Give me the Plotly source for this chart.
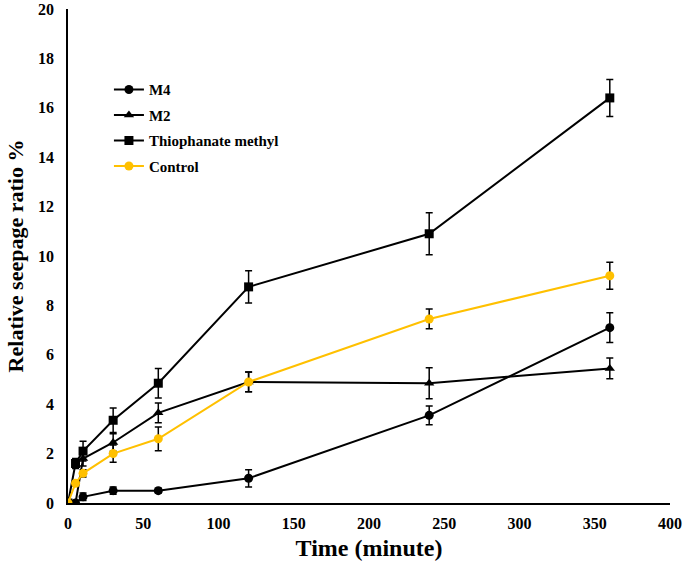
import plotly.graph_objects as go

time = [0, 5, 10, 30, 60, 120, 240, 360]

m4 = [0, 0.0, 0.25, 0.5, 0.5, 1.0, 3.55, 7.1]
m4_err = [0, 0.05, 0.15, 0.15, 0.1, 0.35, 0.38, 0.6]

m2 = [0, 0.0, 1.8, 2.45, 3.65, 4.9, 4.85, 5.45]
m2_err = [0, 0.05, 0.3, 0.35, 0.4, 0.4, 0.63, 0.42]

thio = [0, 1.6, 2.1, 3.35, 4.85, 8.75, 10.9, 16.4]
thio_err = [0, 0.2, 0.4, 0.5, 0.6, 0.65, 0.85, 0.75]

ctrl = [0, 0.8, 1.2, 2.0, 2.6, 4.9, 7.45, 9.2]
ctrl_err = [0, 0.1, 0.15, 0.35, 0.48, 0.4, 0.4, 0.55]

series = [
    ("M4", m4, m4_err, "circle", "black"),
    ("M2", m2, m2_err, "triangle-up", "black"),
    ("Thiophanate methyl", thio, thio_err, "square", "black"),
    ("Control", ctrl, ctrl_err, "circle", "#FFC000"),
]

font_family = "Liberation Serif, Times New Roman, serif"

fig = go.Figure()
for i, (name, vals, errs, sym, col) in enumerate(series):
    fig.add_trace(go.Scatter(
        x=time, y=vals, name=name, mode="lines+markers",
        line=dict(color=col, width=2),
        marker=dict(symbol=sym, size=9, color=col),
        error_y=dict(type="data", array=errs, visible=True,
                     color="black", thickness=1.5, width=3.5),
        legendgroup=f"g{i}",
    ))

fig.update_layout(
    width=685, height=567,
    margin=dict(l=68, r=15, t=9, b=64),
    plot_bgcolor="white", paper_bgcolor="white",
    font=dict(family=font_family, color="black"),
    showlegend=True,
    legend=dict(
        x=0.068, y=0.87, xanchor="left", yanchor="top",
        font=dict(family=font_family, size=15, color="black", weight="bold"),
        bgcolor="rgba(0,0,0,0)", tracegroupgap=3,
        itemwidth=30,
    ),
    xaxis=dict(
        range=[0, 400], dtick=50, tick0=0,
        showgrid=False, zeroline=False, automargin=False,
        showline=True, linecolor="black", linewidth=1.5,
        ticks="outside", ticklen=5, tickcolor="rgba(0,0,0,0)",
        ticklabeloverflow="allow",
        tickfont=dict(size=16, weight="bold", family=font_family),
        title=dict(text="Time (minute)", font=dict(size=24, weight="bold", family=font_family), standoff=8),
    ),
    yaxis=dict(
        range=[0, 20], dtick=2, tick0=0,
        showgrid=False, zeroline=False, automargin=False,
        showline=True, linecolor="black", linewidth=1.5,
        ticks="outside", ticklen=9, tickcolor="rgba(0,0,0,0)",
        ticklabeloverflow="allow",
        tickfont=dict(size=16, weight="bold", family=font_family),
        title=dict(text="Relative seepage ratio %", font=dict(size=22, weight="bold", family=font_family), standoff=8),
    ),
)

fig.write_html("out.html", config={"displayModeBar": False},
               post_script="document.body.style.margin='0';")
